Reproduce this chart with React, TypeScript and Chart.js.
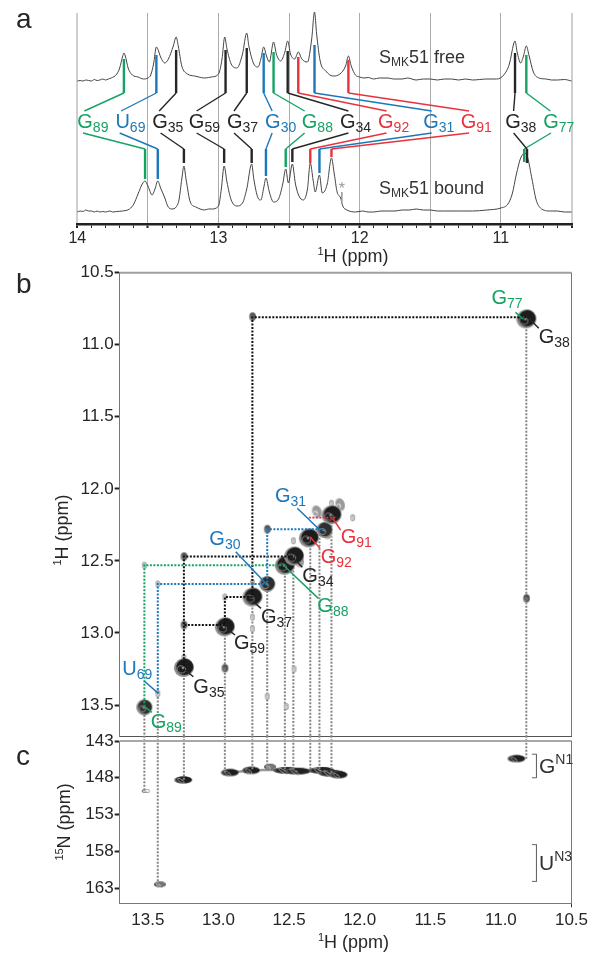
import React, { useEffect, useRef } from "react";
import { Chart, registerables } from "chart.js";
Chart.register(...registerables);

type Pt = [number, number];
const FONT = "'Liberation Sans', Arial, sans-serif";
const GREEN = "#14a363";
const BLUE = "#1c78ba";
const RED = "#e8323c";
const BLACK = "#262626";
const GREY = "#858585";
const COLORS: Record<string, string> = { g: GREEN, b: BLUE, r: RED, k: BLACK };

// ---- panel a: 1D spectra [ppm, intensity]
const freeSpectrum: Pt[] = [[14,143],[13.98,143.5],[13.96,143],[13.94,144],[13.92,143.5],[13.9,143],[13.88,144.5],[13.86,143.5],[13.84,144],[13.82,145],[13.8,144],[13.78,145],[13.76,146],[13.72,150],[13.7,156],[13.68,167],[13.67,171],[13.66,168],[13.64,156],[13.61,149],[13.57,147],[13.53,145],[13.5,146],[13.48,149],[13.46,160],[13.44,177],[13.43,175],[13.41,167],[13.38,161],[13.355,165],[13.32,178],[13.3,187],[13.285,178],[13.26,158],[13.22,150],[13.17,148],[13.14,147],[13.1,146],[13.07,146.5],[13.05,147],[13,150],[12.975,165],[12.956,187],[12.94,175],[12.91,160],[12.87,156],[12.83,170],[12.8,191],[12.785,178],[12.75,160],[12.72,157],[12.7,165],[12.68,177],[12.66,168],[12.64,162],[12.61,182],[12.59,170],[12.56,163],[12.53,172],[12.51,183],[12.49,170],[12.46,165],[12.435,172],[12.41,165],[12.37,162],[12.34,185],[12.32,212],[12.305,190],[12.28,163],[12.24,153],[12.19,148],[12.14,150],[12.1,158],[12.08,168],[12.06,158],[12.03,149],[12,147],[11.97,146],[11.94,146.5],[11.9,145],[11.86,146],[11.8,146],[11.76,145],[11.7,145],[11.66,146],[11.6,144],[11.55,145],[11.5,145],[11.45,144],[11.4,145],[11.35,145],[11.3,144],[11.25,145],[11.2,144],[11.15,144.5],[11.1,145],[11.03,145],[10.98,149],[10.94,160],[10.91,180],[10.9,183],[10.885,172],[10.86,161],[10.84,168],[10.82,178],[10.8,168],[10.77,152],[10.73,146],[10.68,145],[10.64,144],[10.6,144],[10.55,144.5],[10.5,143]];
const boundSpectrum: Pt[] = [[14,12],[13.98,13],[13.96,12.5],[13.94,14],[13.92,13],[13.9,13],[13.88,12],[13.86,13],[13.84,12],[13.82,12.5],[13.8,12],[13.77,13],[13.75,12],[13.72,12.5],[13.68,13],[13.63,15],[13.6,20],[13.57,30],[13.54,40],[13.52,43],[13.5,38],[13.47,29],[13.45,35],[13.43,43],[13.41,36],[13.38,26],[13.36,18],[13.33,15],[13.3,17],[13.28,24],[13.26,45],[13.245,58],[13.23,45],[13.2,22],[13.16,17],[13.13,15],[13.1,14],[13.07,15],[13.05,15],[13,18],[12.98,35],[12.96,58],[12.94,42],[12.91,24],[12.87,18],[12.83,21],[12.8,35],[12.765,60],[12.75,45],[12.72,26],[12.7,24],[12.68,36],[12.664,46],[12.64,32],[12.61,22],[12.575,25],[12.545,40],[12.524,55],[12.505,41],[12.477,60],[12.455,40],[12.43,28],[12.4,24],[12.37,35],[12.35,61],[12.33,44],[12.315,32],[12.285,49],[12.265,31],[12.23,40],[12.2,66],[12.18,50],[12.16,32],[12.135,26],[12.12,18],[12.09,14],[12.03,12],[11.98,13],[11.94,12],[11.9,12],[11.85,13],[11.8,13],[11.75,13],[11.7,14],[11.65,14],[11.6,15],[11.55,14],[11.5,14],[11.45,13],[11.4,13],[11.3,13],[11.2,13],[11.1,14],[11,16],[10.95,20],[10.92,30],[10.89,50],[10.86,66],[10.83,71],[10.81,66],[10.78,45],[10.75,24],[10.72,16],[10.65,13],[10.6,13],[10.55,12],[10.5,12]];

// residue, subscript, colour key, free peak ppm, free line top, upper label ppm, lower label ppm, bound ppm, bound line end, label ppm
type Row = [string, string, string, number, number, number, number, number, number, number];
const assignments: Row[] = [
  ["G","89","g",13.67,165,13.95,13.96,13.52,45,14.0],
  ["U","69","b",13.44,169,13.69,13.70,13.43,45,13.73],
  ["G","35","k",13.30,174,13.42,13.41,13.245,61,13.47],
  ["G","59","k",12.95,174,13.155,13.155,12.96,61,13.21],
  ["G","37","k",12.80,176,12.89,12.89,12.765,61,12.94],
  ["G","30","b",12.68,171,12.62,12.62,12.664,48,12.67],
  ["G","88","g",12.61,172,12.39,12.39,12.524,57,12.41],
  ["G","34","k",12.51,173,12.08,12.08,12.477,62,12.14],
  ["G","92","r",12.435,167,11.81,11.81,12.35,61,11.87],
  ["G","31","b",12.32,179,11.49,11.49,12.285,51,11.55],
  ["G","91","r",12.08,164,11.225,11.225,12.20,67,11.285],
  ["G","38","k",10.90,171,10.91,10.91,10.815,61,10.97],
  ["G","77","g",10.82,169,10.65,10.645,10.835,62,10.70],
];

// ---- panel b: diagonal and cross peaks [ppm, ppm]
const strongPeaks: Pt[] = [[13.245,13.24],[12.955,12.957],[12.76,12.75],[12.53,12.53],[12.465,12.466],[12.36,12.34],[12.2,12.18],[10.82,10.82]];
const mediumPeaks: Pt[] = [[12.655,12.66],[13.525,13.516],[12.25,12.285]];
const clusterLobes: Pt[] = [[12.14,12.11],[12.305,12.16],[12.234,12.306],[12.43,12.5]];
const crossPeaksDark: Pt[] = [[12.76,10.805],[10.82,12.76],[13.245,12.47],[13.245,12.945],[12.955,13.245],[12.655,12.28]];
const crossPeaksFaint: Pt[] = [[13.43,13.42],[13.245,13.17],[12.955,12.75],[12.76,12.65],[12.76,12.89],[12.76,12.97],[12.655,13.44],[13.525,12.53],[13.43,12.66],[12.52,13.51],[12.47,12.36],[12.465,13.25],[12.2,12.1],[12.05,12.2]];

// sequential-walk paths
const walkBlack: Pt[][] = [
  [[10.82,10.81],[12.76,10.81],[12.76,12.75]],
  [[12.76,12.75],[12.955,12.75],[12.955,12.955]],
  [[12.955,12.945],[13.245,12.945]],
  [[12.47,12.47],[13.245,12.47],[13.245,13.24]],
];
const walkBlue: Pt[][] = [
  [[12.25,12.28],[12.655,12.28],[12.655,12.66],[13.43,12.66],[13.43,13.42]],
];
const walkGreen: Pt[][] = [
  [[12.53,12.53],[13.525,12.53],[13.525,13.52]],
];
const walkRed: Pt[][] = [[[12.36,12.2],[12.16,12.2]]];

// imino traces: 1H ppm, diagonal ppm, 15N ppm
const iminoLines: [number, number, number][] = [
  [13.525,13.52,149.8],[13.43,13.42,162.5],[13.245,13.24,148.3],[12.955,12.96,147.3],
  [12.76,12.75,147],[12.655,12.66,146.5],[12.53,12.53,147],[12.47,12.47,147],
  [12.35,12.34,147],[12.285,12.29,147],[12.2,12.18,147.4],[10.82,10.82,145.6],
];

// label, subscript, colour, label ppm x, label ppm y, leader start x, y, leader end x, y
type BLabel = [string, string, string, number, number, number, number, number, number];
const hsqcLabels: BLabel[] = [
  ["G","31","b",12.60,12.089,12.442,12.135,12.281,12.287],
  ["G","30","b",13.065,12.39,12.878,12.436,12.666,12.655],
  ["U","69","b",13.681,13.292,13.526,13.333,13.426,13.419],
  ["G","89","g",13.48,13.662,13.473,13.551,13.521,13.512],
  ["G","35","k",13.178,13.415,13.178,13.304,13.237,13.257],
  ["G","59","k",12.89,13.111,12.883,13.014,12.942,12.968],
  ["G","37","k",12.699,12.933,12.699,12.829,12.754,12.783],
  ["G","34","k",12.406,12.644,12.406,12.544,12.47,12.482],
  ["G","88","g",12.30,12.857,12.293,12.76,12.529,12.54],
  ["G","92","r",12.276,12.512,12.281,12.413,12.352,12.332],
  ["G","91","r",12.135,12.378,12.135,12.286,12.191,12.204],
  ["G","77","g",11.067,10.719,10.897,10.775,10.841,10.823],
  ["G","38","k",10.732,10.99,10.732,10.886,10.801,10.816],
];

// ---- panel c: 1H-15N peaks
const nitrogenTicks = [143, 148, 153, 158, 163];
const nPeaksWide: Pt[] = [[12.52,147],[12.44,147.1],[12.27,147],[12.2,147.4]];
const nPeaksMid: Pt[] = [[13.25,148.3],[12.92,147.3],[12.77,147],[12.15,147.6],[10.89,145.4]];
const nPeaksSmall: Pt[] = [[12.635,146.5],[13.415,162.5]];
const nPeaksOpen: Pt[] = [[13.515,149.8]];
const nRidge: Pt[] = [[12.92,147.3],[12.77,147],[12.635,146.9],[12.44,147.1],[12.27,147],[12.15,147.5]];
const bracketG: Pt[] = [[10.78,144.8],[10.748,144.8],[10.748,148],[10.78,148]];
const bracketU: Pt[] = [[10.78,157.1],[10.748,157.1],[10.748,162.1],[10.78,162.1]];

// ---- drawing helpers
const toXY = (p: Pt[]) => p.map(([x, y]) => ({ x, y }));
const line = (p: Pt[], color: string, width: number, dash: number[] = [], extra: any = {}) => ({
  data: toXY(p), showLine: true, borderColor: color, borderWidth: width, borderDash: dash,
  pointRadius: 0, clip: false, ...extra,
});
const dots = (p: Pt[], img: HTMLCanvasElement) => ({
  data: toXY(p), showLine: false, pointStyle: img, pointRadius: 5, clip: false,
});

function blob(rx: number, ry: number, rim: string, fill: string, core: string, rot = -0.3) {
  const c = document.createElement("canvas");
  c.width = Math.ceil(rx * 2 + 4);
  c.height = Math.ceil(ry * 2 + 4);
  const g = c.getContext("2d")!;
  const cx = c.width / 2, cy = c.height / 2;
  g.beginPath(); g.ellipse(cx, cy, rx, ry, rot, 0, Math.PI * 2);
  g.fillStyle = rim; g.fill();
  g.beginPath(); g.ellipse(cx + rx * 0.08, cy - ry * 0.06, rx * 0.86, ry * 0.84, rot, 0, Math.PI * 2);
  g.fillStyle = fill; g.fill();
  g.beginPath(); g.ellipse(cx - rx * 0.25, cy + ry * 0.2, rx * 0.42, ry * 0.36, rot + 0.6, 0, Math.PI * 2);
  g.strokeStyle = core; g.lineWidth = 0.8; g.stroke();
  g.beginPath(); g.ellipse(cx - rx * 0.1, cy + ry * 0.05, rx * 0.12, ry * 0.12, 0, 0, Math.PI * 2);
  g.fillStyle = core; g.fill();
  return c;
}

type Run = { t: string; s: number; dy?: number };
function runs(ctx: CanvasRenderingContext2D, x: number, y: number, list: Run[], color: string) {
  ctx.fillStyle = color;
  ctx.textBaseline = "alphabetic";
  ctx.textAlign = "left";
  let px = x;
  for (const r of list) {
    ctx.font = `${r.s}px ${FONT}`;
    ctx.fillText(r.t, px, y + (r.dy || 0));
    px += ctx.measureText(r.t).width;
  }
}
function runsWidth(ctx: CanvasRenderingContext2D, list: Run[]) {
  let w = 0;
  for (const r of list) { ctx.font = `${r.s}px ${FONT}`; w += ctx.measureText(r.t).width; }
  return w;
}
const H_TITLE: Run[] = [{ t: "1", s: 11, dy: -7 }, { t: "H (ppm)", s: 18 }];
const N_TITLE: Run[] = [{ t: "15", s: 11, dy: -7 }, { t: "N (ppm)", s: 18 }];
function rotated(ctx: CanvasRenderingContext2D, cx: number, cy: number, list: Run[]) {
  ctx.save();
  ctx.translate(cx, cy);
  ctx.rotate(-Math.PI / 2);
  runs(ctx, -runsWidth(ctx, list) / 2, 0, list, BLACK);
  ctx.restore();
}
function frame(ctx: CanvasRenderingContext2D, a: any, topColor: string, topW: number) {
  ctx.save();
  ctx.strokeStyle = topColor; ctx.lineWidth = topW;
  ctx.beginPath(); ctx.moveTo(a.left, a.top); ctx.lineTo(a.right, a.top); ctx.stroke();
  ctx.strokeStyle = "#777"; ctx.lineWidth = 1;
  ctx.beginPath(); ctx.moveTo(a.right, a.top); ctx.lineTo(a.right, a.bottom); ctx.stroke();
  ctx.restore();
}

const base = {
  animation: false, responsive: false, events: [] as string[],
  plugins: { legend: { display: false }, tooltip: { enabled: false } },
};
const isMajor = (v: number) => Math.abs(v * 2 - Math.round(v * 2)) < 1e-6;
const isInt = (v: number) => Math.abs(v - Math.round(v)) < 1e-6;

function configA() {
  const datasets: any[] = [];
  for (const [, , c, fp, ft, ul, dl, bp, be] of assignments) {
    const col = COLORS[c];
    datasets.push(line([[fp, ft], [fp, 131]], col, 2.4));
    datasets.push(line([[fp, 131], [ul, 113]], col, 1.4));
    datasets.push(line([[dl, 91], [bp, 75]], col, 1.4));
    datasets.push(line([[bp, 75], [bp, be]], col, 2.4));
  }
  datasets.push(line([[12.127, 32], [12.127, 22]], "#999", 1));
  datasets.push(line(freeSpectrum, "#444", 1, [], { cubicInterpolationMode: "monotone" }));
  datasets.push(line(boundSpectrum, "#444", 1, [], { cubicInterpolationMode: "monotone" }));
  return {
    type: "scatter",
    data: { datasets },
    options: {
      ...base,
      layout: { padding: { top: 13, left: 77.3, right: 36.5, bottom: 707 } },
      scales: {
        x: {
          type: "linear", min: 10.5, max: 14, reverse: true,
          afterFit: (s: any) => { s.height = 30; },
          border: { color: "#222", width: 2.5 },
          grid: {
            color: (c: any) => (isMajor(c.tick.value) ? (c.tick.value === 14 || c.tick.value === 10.5 ? "#cfcfcf" : "#ababab") : "rgba(0,0,0,0)"),
            lineWidth: (c: any) => (c.tick.value === 14 || c.tick.value === 10.5 ? 2 : 1),
            tickColor: "#222", tickLength: 4,
            tickWidth: (c: any) => (isMajor(c.tick.value) ? 2 : 1),
          },
          ticks: {
            stepSize: 0.1, autoSkip: false, maxRotation: 0, padding: 1, color: BLACK,
            font: { family: FONT, size: 16 },
            callback: (v: number) => (isInt(v) ? String(Math.round(v)) : ""),
          },
        },
        y: { type: "linear", display: false, min: 0, max: 211 },
      },
    },
    plugins: [{
      id: "textA",
      afterDatasetsDraw(chart: any) {
        const { ctx, scales: { x, y } } = chart;
        for (const [n, sub, c, , , , , , , lp] of assignments) {
          runs(ctx, x.getPixelForValue(lp), y.getPixelForValue(95.7), [{ t: n, s: 20 }, { t: sub, s: 14, dy: 4 }], COLORS[c]);
        }
        const tx = x.getPixelForValue(11.863);
        runs(ctx, tx, y.getPixelForValue(161), [{ t: "S", s: 18 }, { t: "MK", s: 12, dy: 3 }, { t: "51 free", s: 18 }], "#333");
        runs(ctx, tx, y.getPixelForValue(30), [{ t: "S", s: 18 }, { t: "MK", s: 12, dy: 3 }, { t: "51 bound", s: 18 }], "#333");
        ctx.font = `16px ${FONT}`;
        ctx.fillStyle = "#999"; ctx.textAlign = "center"; ctx.textBaseline = "alphabetic";
        ctx.fillText("*", x.getPixelForValue(12.127), y.getPixelForValue(30));
        runs(ctx, 353 - runsWidth(ctx, H_TITLE) / 2, 262, H_TITLE, BLACK);
        runs(ctx, 16, 28, [{ t: "a", s: 28 }], BLACK);
      },
    }],
  };
}

function configB() {
  const strong = blob(10, 9.5, "#8f8f8f", "#1c1c1c", "#9a9a9a");
  const medium = blob(8, 8, "#888", "#2e2e2e", "#aaa");
  const lobe = blob(5, 7, "#d0d0d0", "#9a9a9a", "#e8e8e8");
  const dark = blob(3.5, 4.5, "#aaa", "#555", "#999", 0);
  const faint = blob(2.5, 3.5, "#999", "#b8b8b8", "#ddd", 0);
  const datasets: any[] = [];
  for (const [, , c, , , sx, sy, ex, ey] of hsqcLabels) {
    datasets.push(line([[sx, sy], [ex, ey]], COLORS[c], 1.5));
  }
  walkRed.forEach((p) => datasets.push(line(p, RED, 1.8, [2, 1.5])));
  walkBlue.forEach((p) => datasets.push(line(p, BLUE, 2, [2, 1.5])));
  walkGreen.forEach((p) => datasets.push(line(p, GREEN, 2, [2, 1.5])));
  walkBlack.forEach((p) => datasets.push(line(p, "#111", 2, [2, 1.5])));
  datasets.push(dots(strongPeaks, strong));
  datasets.push(dots(mediumPeaks, medium));
  datasets.push(dots(clusterLobes, lobe));
  datasets.push(dots(crossPeaksDark, dark));
  datasets.push(dots(crossPeaksFaint, faint));
  for (const [h, d] of iminoLines) {
    datasets.push(line([[h, d], [h, 13.715]], GREY, 2, [2, 1.5]));
  }
  return {
    type: "scatter",
    data: { datasets },
    options: {
      ...base,
      layout: { padding: { top: 272.7, left: 0, right: 36.5, bottom: 224 } },
      scales: {
        x: {
          type: "linear", min: 10.5, max: 13.7, reverse: true,
          afterFit: (s: any) => { s.height = 1; },
          border: { color: "#555", width: 1 },
          grid: { drawOnChartArea: false, drawTicks: false },
          ticks: { display: false },
        },
        y: {
          type: "linear", min: 10.5, max: 13.715, reverse: true,
          afterFit: (s: any) => { s.width = 119.66; },
          border: { color: "#777", width: 1 },
          grid: { drawOnChartArea: false, tickColor: "#222", tickLength: 5, tickWidth: 2 },
          ticks: {
            stepSize: 0.5, includeBounds: false, padding: 1, color: BLACK,
            font: { family: FONT, size: 17 },
            callback: (v: number) => v.toFixed(1),
          },
        },
      },
    },
    plugins: [{
      id: "textB",
      afterDatasetsDraw(chart: any) {
        const { ctx, chartArea, scales: { x, y } } = chart;
        frame(ctx, chartArea, "#a0a0a0", 2);
        for (const [n, sub, c, lx, ly] of hsqcLabels) {
          runs(ctx, x.getPixelForValue(lx), y.getPixelForValue(ly), [{ t: n, s: 20 }, { t: sub, s: 14, dy: 4 }], COLORS[c]);
        }
        rotated(ctx, 68, 530, H_TITLE);
        runs(ctx, 16, 293, [{ t: "b", s: 28 }], BLACK);
      },
    }],
  };
}

function configC() {
  const wide = blob(13, 3.5, "#555", "#222", "#ccc", 0);
  const mid = blob(9, 3.8, "#666", "#1e1e1e", "#aaa", 0);
  const small = blob(6, 3, "#444", "#777", "#ccc", 0);
  const open = blob(4, 2, "#555", "#eee", "#999", 0);
  const datasets: any[] = [];
  for (const [h, , n] of iminoLines) {
    datasets.push(line([[h, 142.3], [h, n]], GREY, 2, [2, 1.5]));
  }
  datasets.push(line(bracketG, "#666", 1));
  datasets.push(line(bracketU, "#666", 1));
  datasets.push(dots(nPeaksOpen, open));
  datasets.push(dots(nPeaksSmall, small));
  datasets.push(dots(nPeaksMid, mid));
  datasets.push(dots(nPeaksWide, wide));
  datasets.push(line(nRidge, "#999", 2.5));
  return {
    type: "scatter",
    data: { datasets },
    options: {
      ...base,
      layout: { padding: { top: 741, left: 0, right: 36.5, bottom: 17.7 } },
      scales: {
        x: {
          type: "linear", min: 10.5, max: 13.7, reverse: true,
          afterFit: (s: any) => { s.height = 40; },
          border: { color: "#777", width: 1 },
          grid: {
            drawOnChartArea: false, tickLength: 4,
            tickColor: (c: any) => (c.tick.value === 10.5 ? "#333" : "rgba(0,0,0,0)"),
          },
          ticks: {
            stepSize: 0.5, includeBounds: false, maxRotation: 0, padding: 3, color: BLACK,
            font: { family: FONT, size: 17 },
            callback: (v: number) => v.toFixed(1),
          },
        },
        y: {
          type: "linear", min: 143, max: 165.08, reverse: true,
          afterFit: (s: any) => { s.width = 119.66; },
          afterBuildTicks: (s: any) => { s.ticks = nitrogenTicks.map((value) => ({ value })); },
          border: { color: "#777", width: 1 },
          grid: { drawOnChartArea: false, tickColor: "#222", tickLength: 5, tickWidth: 2 },
          ticks: {
            padding: 1, color: BLACK, font: { family: FONT, size: 17 },
          },
        },
      },
    },
    plugins: [{
      id: "textC",
      afterDatasetsDraw(chart: any) {
        const { ctx, chartArea, scales: { x, y } } = chart;
        frame(ctx, chartArea, "#a8a8a8", 2);
        runs(ctx, x.getPixelForValue(10.73), y.getPixelForValue(147.35), [{ t: "G", s: 21 }, { t: "N1", s: 14, dy: -9 }], "#333");
        runs(ctx, x.getPixelForValue(10.73), y.getPixelForValue(160.55), [{ t: "U", s: 21 }, { t: "N3", s: 14, dy: -9 }], "#333");
        rotated(ctx, 70, 822, N_TITLE);
        runs(ctx, 353.5 - runsWidth(ctx, H_TITLE) / 2, 948, H_TITLE, BLACK);
        runs(ctx, 16, 765, [{ t: "c", s: 28 }], BLACK);
      },
    }],
  };
}

const canvasStyle: React.CSSProperties = { position: "absolute", left: 0, top: 0 };

export default function App() {
  const a = useRef<HTMLCanvasElement>(null);
  const b = useRef<HTMLCanvasElement>(null);
  const c = useRef<HTMLCanvasElement>(null);
  useEffect(() => {
    const charts = [
      new Chart(a.current!, configA() as any),
      new Chart(b.current!, configB() as any),
      new Chart(c.current!, configC() as any),
    ];
    return () => charts.forEach((ch) => ch.destroy());
  }, []);
  return (
    <div style={{ position: "absolute", left: 0, top: 0, width: 608, height: 961, background: "#fff", overflow: "hidden" }}>
      <canvas ref={a} width={608} height={961} style={canvasStyle} />
      <canvas ref={b} width={608} height={961} style={canvasStyle} />
      <canvas ref={c} width={608} height={961} style={canvasStyle} />
    </div>
  );
}
